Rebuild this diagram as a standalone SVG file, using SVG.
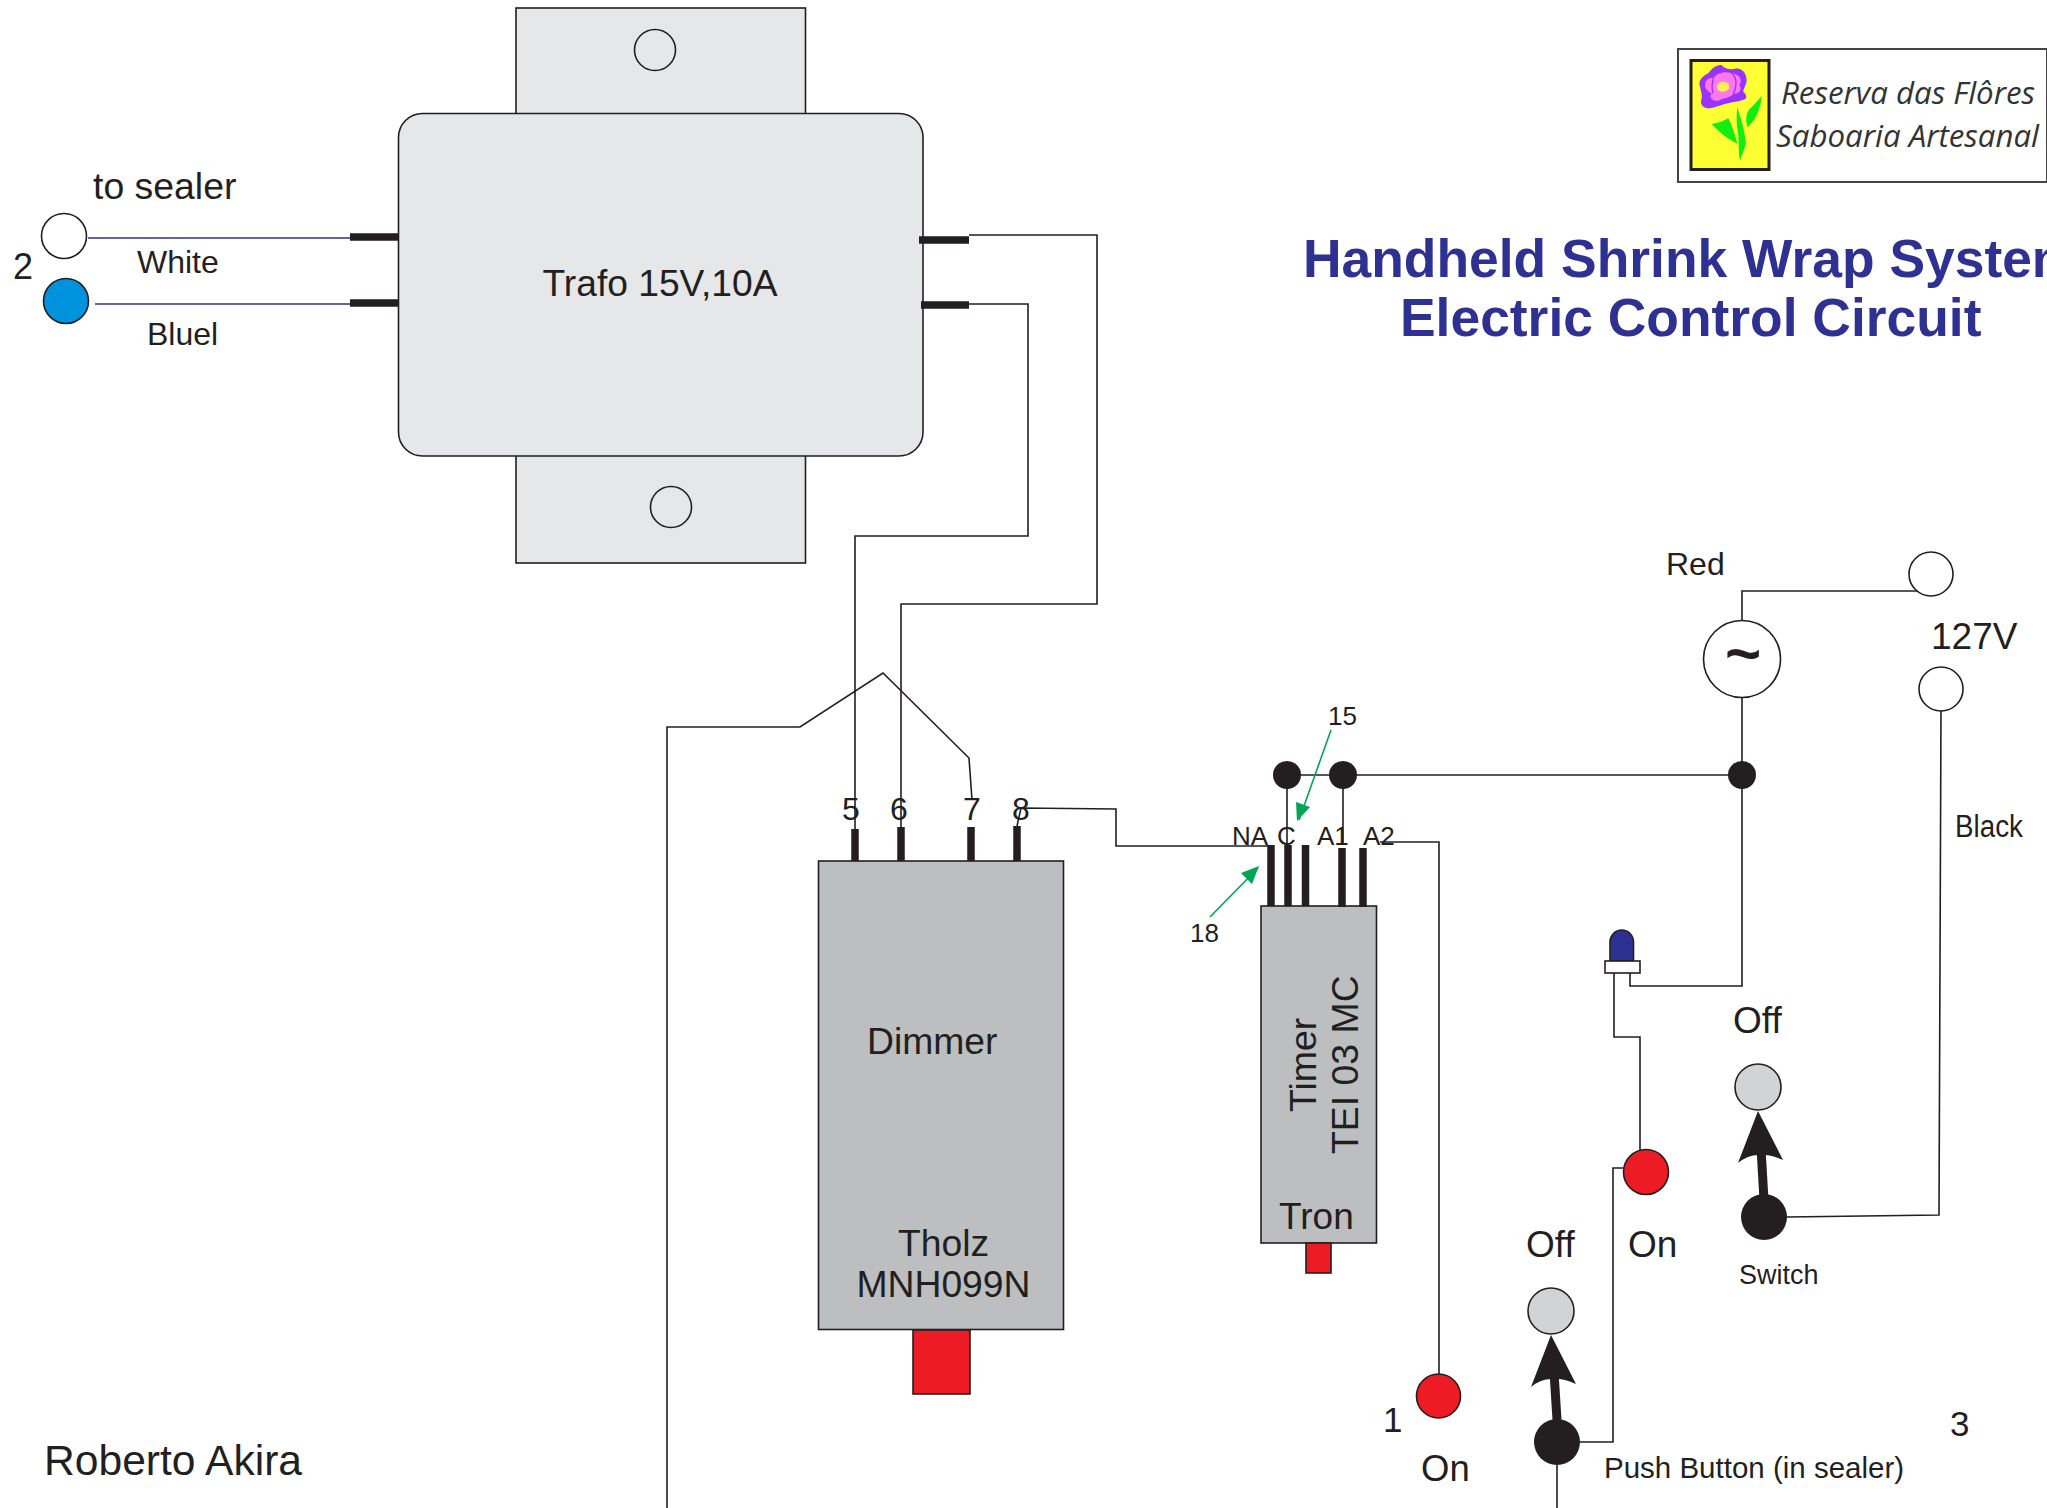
<svg xmlns="http://www.w3.org/2000/svg" width="2047" height="1508" viewBox="0 0 2047 1508">
<style>
text{font-family:"Liberation Sans",Arial,sans-serif;fill:#231f20}
.w{fill:none;stroke:#231f20;stroke-width:1.6}
.b{fill:none;stroke:#2e3192;stroke-width:1.3}
.p{fill:none;stroke:#231f20;stroke-width:7.500}
.g{fill:none;stroke:#00a651;stroke-width:1.6}
.o{stroke:#231f20;stroke-width:1.6}
.t{fill:#2e3192;font-weight:bold;font-size:53.4px}
.k{fill:#231f20}
.s{stroke:#231f20;stroke-width:9;fill:none}
.l{font-family:"Open Sans",sans-serif;font-style:italic;fill:#333}
</style>
<rect width="2047" height="1508" fill="#fff"/>
<g id="connectors">
<path class="b" d="M88 238H350M95 304H350"/>
<path class="w" d="M969 235H1097V604H901V827M969 304H1028V536H855V829"/>
<path class="w" d="M972 800L969 758L883 673L800 727H667V1508"/>
<path class="w" d="M1017 826L1021 808L1116 809V846H1271"/>
<path class="w" d="M1380 842H1439V1375"/>
<path class="w" d="M1287 775H1742M1287 775V845M1343 775V845"/>
<path class="w" d="M1931 591H1742V986H1630V973M1614 973V1037H1640V1158"/>
<path class="w" d="M1941 710L1939 1215L1787 1217"/>
<path class="w" d="M1623 1168H1613V1442H1580M1557 1465V1508"/>
<path class="g" d="M1331 730L1299 820M1210 917L1258 868"/>
<path d="M1297 821L1296 802L1310 807Z M1259 866L1241 873L1252 884Z" fill="#00a651"/>
</g>
<g id="trafo">
<rect x="516" y="8" width="289.500" height="555" fill="#e6e7e8" class="o"/>
<circle cx="655" cy="50" r="20.500" fill="#e6e7e8" class="o"/>
<circle cx="671" cy="507" r="20.500" fill="#e6e7e8" class="o"/>
<rect x="398.500" y="113.500" width="524.500" height="342.500" rx="24" fill="#e6e7e8" class="o"/>
<path class="p" d="M350 237H398M350 303H398M919 240H969M921 305H969"/>
<text x="660" y="296" font-size="37.200" text-anchor="middle">Trafo 15V,10A</text>
</g>
<g id="sealer-terminals">
<circle cx="64" cy="236" r="22.500" fill="#fff" class="o"/>
<circle cx="66" cy="301" r="22.500" fill="#0093dd" class="o"/>
<text x="93" y="199" font-size="37.400">to sealer</text>
<text x="13" y="279" font-size="36">2</text>
<text x="137" y="273" font-size="32">White</text>
<text x="147" y="345" font-size="32">Bluel</text>
</g>
<g id="logo">
<rect x="1678" y="49" width="369" height="133" fill="#fff" stroke="#444" stroke-width="2"/>
<rect x="1691" y="60.500" width="78" height="109" fill="#ffff33" stroke="#231f20" stroke-width="3"/>
<g transform="translate(1650,30) scale(.3333)">
<path d="M262 232C270 260 282 290 288 340C284 355 278 370 270 392C264 360 268 340 264 310C260 285 258 258 262 232Z" fill="#11ee11"/>
<path d="M185 282L212 276L235 265C248 290 255 315 262 340C235 330 210 308 185 282Z" fill="#11ee11"/>
<path d="M335 198C332 230 322 265 293 292C285 270 290 250 296 240C310 228 322 212 335 198Z" fill="#11ee11"/>
<path d="M148 160C150 145 165 135 175 130C185 115 200 103 215 105C225 118 245 120 262 115C275 118 288 125 290 150C290 165 280 175 280 185C292 195 290 205 285 208C270 215 255 215 240 218C215 222 195 235 170 235C155 230 150 220 155 205C158 195 150 175 148 160Z" fill="#9933ff"/>
<path d="M165 165C165 150 178 140 190 145C200 128 225 122 245 130C268 132 280 150 268 165C278 178 268 192 250 192C238 205 215 205 205 212C190 215 175 205 185 190C175 185 165 178 165 165Z" fill="#ff77ee"/>
<path d="M190 145C185 165 185 180 190 190M245 130C262 145 262 165 250 192" stroke="#9933ff" stroke-width="4" fill="none"/>
<ellipse cx="219" cy="170" rx="19" ry="15" fill="#ffee55"/>
</g>
<text x="1781" y="104" font-size="31" class="l" textLength="254" lengthAdjust="spacingAndGlyphs">Reserva das Flôres</text>
<text x="1776" y="147" font-size="31" class="l" textLength="263" lengthAdjust="spacingAndGlyphs">Saboaria Artesanal</text>
</g>
<g id="title">
<text class="t" x="1303" y="277">Handheld Shrink Wrap System</text>
<text class="t" x="1400" y="336">Electric Control Circuit</text>
</g>
<g id="dimmer">
<rect x="818.500" y="861" width="245" height="468.500" fill="#bcbec0" class="o"/>
<rect x="913" y="1330" width="57" height="64" fill="#ed1c24" class="o"/>
<path class="p" d="M855 829V861M901 827V861M971 827V861M1017 826V861"/>
<text x="867" y="1054" font-size="37.300">Dimmer</text>
<text x="943.500" y="1256" font-size="37.300" text-anchor="middle">Tholz</text>
<text x="943.500" y="1297" font-size="37.300" text-anchor="middle">MNH099N</text>
<text x="851" y="820" font-size="32" text-anchor="middle">5</text>
<text x="899" y="820" font-size="32" text-anchor="middle">6</text>
<text x="972" y="820" font-size="32" text-anchor="middle">7</text>
<text x="1021" y="820" font-size="32" text-anchor="middle">8</text>
</g>
<g id="timer">
<rect x="1261" y="906" width="115.500" height="337" fill="#bcbec0" class="o"/>
<rect x="1306" y="1243" width="25" height="30" fill="#ed1c24" class="o"/>
<path class="p" d="M1271 845V906M1288 845V906M1305.500 845V906M1342 848V907M1363 848V907"/>
<text transform="translate(1316,1112) rotate(-90)" font-size="37.400">Timer</text>
<text transform="translate(1358,1154) rotate(-90)" font-size="37.400">TEI 03 MC</text>
<text x="1279" y="1229" font-size="37">Tron</text>
<text x="1232" y="845" font-size="26">NA</text>
<text x="1277" y="845" font-size="26">C</text>
<text x="1317" y="845" font-size="26">A1</text>
<text x="1363" y="845" font-size="26">A2</text>
<text x="1328" y="725" font-size="26">15</text>
<text x="1190" y="942" font-size="26">18</text>
</g>
<g id="junctions">
<circle cx="1287" cy="775" r="14" class="k"/>
<circle cx="1343" cy="775" r="14" class="k"/>
<circle cx="1742" cy="775" r="14" class="k"/>
</g>
<g id="source">
<circle cx="1742" cy="659" r="38.500" fill="#fff" class="o"/>
<text x="1743" y="674" font-size="62" font-weight="bold" text-anchor="middle">~</text>
<circle cx="1931" cy="574" r="22" fill="#fff" class="o"/>
<circle cx="1941" cy="689" r="22" fill="#fff" class="o"/>
<text x="1666" y="575" font-size="32">Red</text>
<text x="1931" y="649" font-size="37">127V</text>
<text x="1955" y="837" font-size="31" textLength="68" lengthAdjust="spacingAndGlyphs">Black</text>
</g>
<g id="led">
<path d="M1610 961V942A11.700 12 0 0 1 1633.500 942V961Z" fill="#2e3192" class="o"/>
<rect x="1605" y="961" width="35" height="12" fill="#fff" class="o"/>
</g>
<g id="switch">
<circle cx="1758" cy="1087" r="23" fill="#d1d3d4" class="o"/>
<path class="s" d="M1761 1148L1764 1200"/>
<path class="k" d="M1758 1111L1783 1160Q1770 1154 1758 1155Q1748 1155 1738 1163Z"/>
<circle cx="1764" cy="1217" r="23" class="k"/>
<text x="1733" y="1033" font-size="37">Off</text>
<text x="1739" y="1284" font-size="27">Switch</text>
</g>
<g id="push-button">
<circle cx="1551" cy="1311" r="23" fill="#d1d3d4" class="o"/>
<path class="s" d="M1554 1372L1557 1420"/>
<path class="k" d="M1551 1335L1576 1384Q1563 1378 1551 1379Q1541 1379 1531 1387Z"/>
<circle cx="1557" cy="1442" r="23" class="k"/>
<circle cx="1646" cy="1172" r="22.500" fill="#ed1c24" class="o"/>
<text x="1526" y="1257" font-size="37">Off</text>
<text x="1628" y="1257" font-size="37">On</text>
<text x="1604" y="1478" font-size="29.500">Push Button (in sealer)</text>
</g>
<g id="lamp-on">
<circle cx="1438.500" cy="1396" r="22" fill="#ed1c24" class="o"/>
<text x="1383" y="1432" font-size="35">1</text>
<text x="1421" y="1481" font-size="36.500">On</text>
</g>
<g id="notes">
<text x="1950" y="1436" font-size="35">3</text>
<text x="44" y="1475" font-size="42.600">Roberto Akira</text>
</g>
</svg>
